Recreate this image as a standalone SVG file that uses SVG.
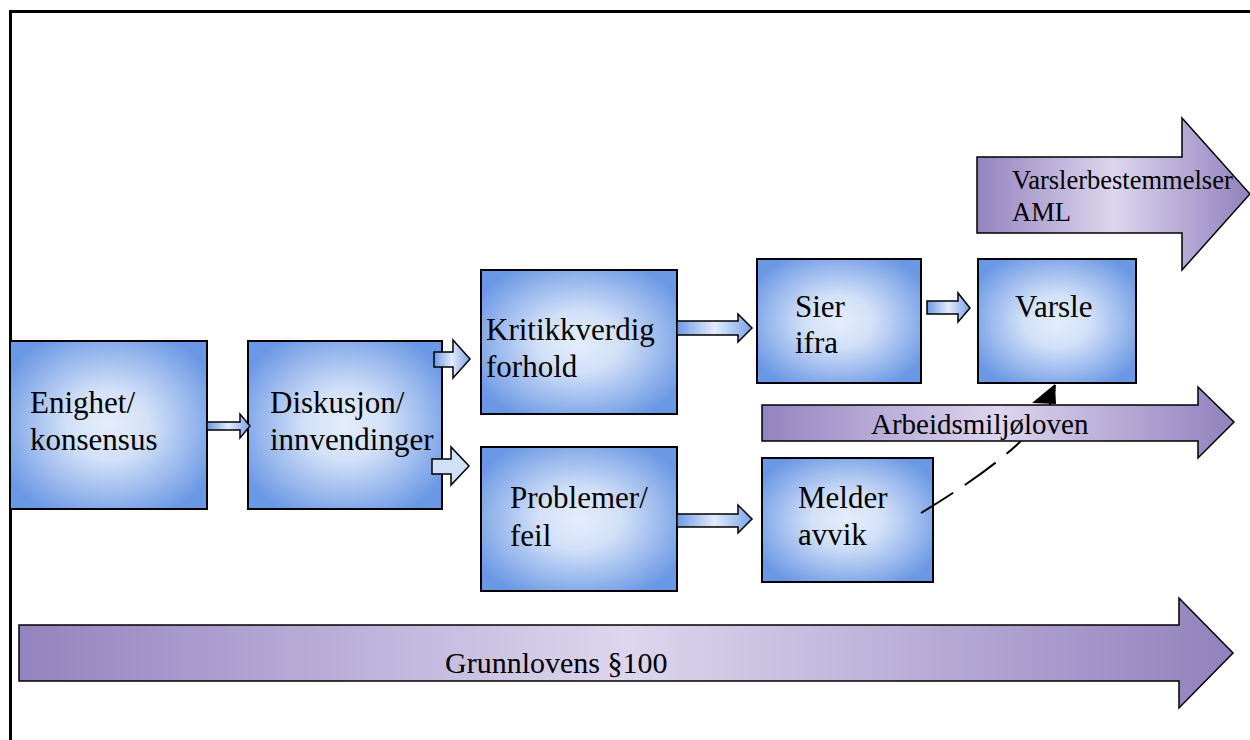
<svg xmlns="http://www.w3.org/2000/svg" width="1250" height="740" viewBox="0 0 1250 740">
<defs>
<radialGradient id="boxg" cx="0.5" cy="0.5" r="0.6">
<stop offset="0" stop-color="#e4edfb"/>
<stop offset="0.35" stop-color="#d2e0f8"/>
<stop offset="1" stop-color="#6b98e4"/>
</radialGradient>
<linearGradient id="smallg" x1="0" y1="0" x2="1" y2="0">
<stop offset="0" stop-color="#6f9ae4"/>
<stop offset="0.5" stop-color="#e2ebfa"/>
<stop offset="1" stop-color="#7aa3e8"/>
</linearGradient>
<linearGradient id="purg" x1="0" y1="0" x2="1" y2="0">
<stop offset="0" stop-color="#9383bf"/>
<stop offset="0.5" stop-color="#ddd6ee"/>
<stop offset="1" stop-color="#9181bd"/>
</linearGradient>
</defs>
<style>
.box{fill:url(#boxg);stroke:#000;stroke-width:2}
.sa{fill:url(#smallg);stroke:#000;stroke-width:1.5;stroke-linejoin:miter}
.pa{fill:url(#purg);stroke:#000;stroke-width:1.5}
.t{font-family:"Liberation Serif","Times New Roman",serif;font-size:31px;fill:#000}
.tp{font-family:"Liberation Serif","Times New Roman",serif;fill:#000}
.dash{fill:none;stroke:#000;stroke-width:2;stroke-dasharray:38 14}
</style>
<rect width="1250" height="740" fill="#fff"/>
<rect x="10.5" y="11.5" width="1300" height="800" fill="none" stroke="#000" stroke-width="3"/>

<g id="varslerbestemmelser">
<polygon class="pa" points="977,157 1182,157 1182,118 1250,194 1182,270 1182,233 977,233"/>
<text class="tp" font-size="26.5" x="1012" y="189">Varslerbestemmelser</text>
<text class="tp" font-size="26.5" x="1012" y="221">AML</text>
</g>

<g id="grunnlovens">
<polygon class="pa" points="19,625 1179,625 1179,598 1233,653 1179,708 1179,681 19,681"/>
<text class="tp" font-size="30" x="445" y="673">Grunnlovens §100</text>
</g>

<g id="enighet">
<rect class="box" x="10" y="341" width="197" height="168"/>
<text class="t" x="30" y="413">Enighet/</text>
<text class="t" x="30" y="450">konsensus</text>
</g>

<g id="diskusjon">
<rect class="box" x="248" y="341" width="194" height="168"/>
<text class="t" x="270" y="413">Diskusjon/</text>
<text class="t" x="270" y="450">innvendinger</text>
</g>

<g id="kritikkverdig">
<rect class="box" x="481" y="270" width="196" height="144"/>
<text class="t" x="486" y="340">Kritikkverdig</text>
<text class="t" x="486" y="377">forhold</text>
</g>

<g id="problemer">
<rect class="box" x="481" y="447" width="196" height="144"/>
<text class="t" x="510" y="508">Problemer/</text>
<text class="t" x="510" y="546">feil</text>
</g>

<g id="sier">
<rect class="box" x="757" y="259" width="164" height="124"/>
<text class="t" x="795" y="317">Sier</text>
<text class="t" x="795" y="353">ifra</text>
</g>

<g id="varsle">
<rect class="box" x="978" y="259" width="158" height="124"/>
<text class="t" x="1015" y="317">Varsle</text>
</g>

<g id="melder">
<rect class="box" x="762" y="458" width="171" height="124"/>
<text class="t" x="798" y="508">Melder</text>
<text class="t" x="798" y="545">avvik</text>
</g>

<g id="connectors">
<path class="dash" d="M921,513 Q1055,432 1055,385"/>
<polygon points="1055,384 1056,404 1032,403" fill="#000"/>
<polygon class="sa" points="207,422 240,422 240,414 250,426 240,438 240,430 207,430"/>
<polygon class="sa" points="434,352 453,352 453,340 470,359 453,378 453,367 434,367"/>
<polygon class="sa" style="fill:#d0e0f5" points="432,459 451,459 451,447 469,466 451,485 451,474 432,474"/>
<polygon class="sa" points="677,321 738,321 738,314 752,328 738,342 738,335 677,335"/>
<polygon class="sa" points="677,514 738,514 738,505 752,519 738,533 738,527 677,527"/>
<polygon class="sa" points="927,301 958,301 958,293 970,308 958,322 958,314 927,314"/>
</g>

<g id="arbeidsmiljoloven">
<polygon class="pa" points="762,405 1198,405 1198,387 1234,422 1198,458 1198,441 762,441"/>
<text class="tp" font-size="29" x="871" y="434">Arbeidsmiljøloven</text>
</g>
</svg>
